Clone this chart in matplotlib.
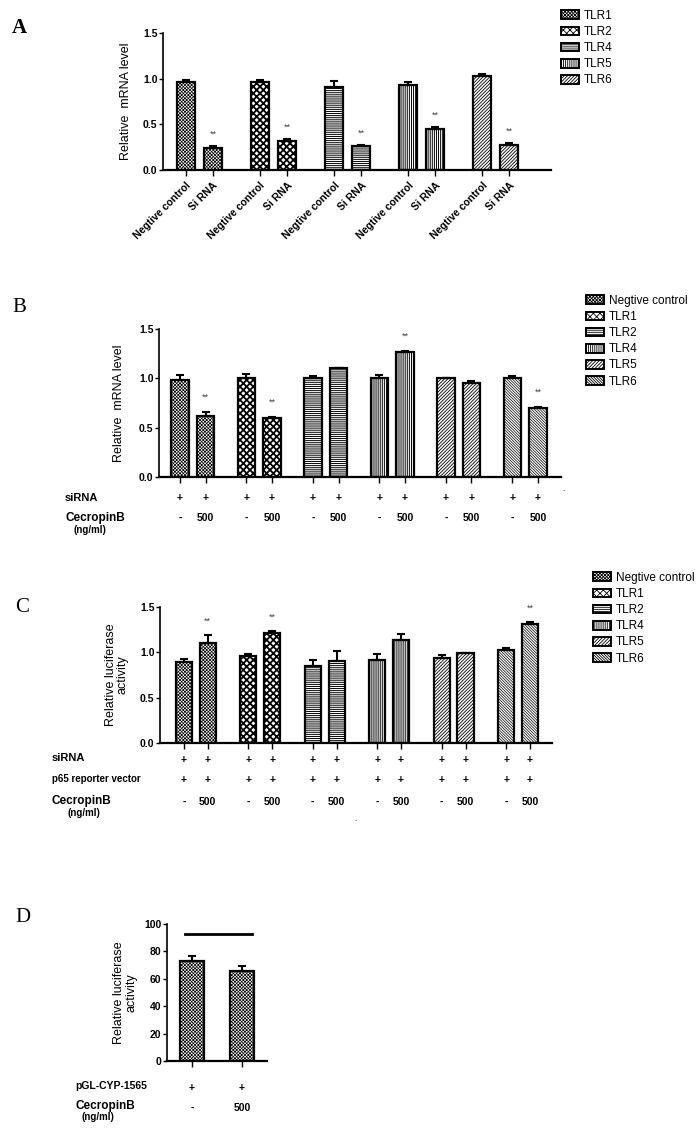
"""Fig: TLR siRNA knockdown / CecropinB — GraphPad style hatched bars"""
import matplotlib
matplotlib.use("Agg")
import matplotlib.pyplot as plt
import matplotlib.transforms as mtransforms
from matplotlib.patches import Patch

plt.rcParams["font.family"] = ["Liberation Sans", "DejaVu Sans"]
plt.rcParams["hatch.linewidth"] = 0.6

W, H = 700, 1128

# ---- data ----
a_groups = ["TLR1", "TLR2", "TLR4", "TLR5", "TLR6"]
a_ticklabels = ["Negtive control", "Si RNA"]
a_nc = [0.96, 0.96, 0.91, 0.93, 1.03]
a_nc_err = [0.02, 0.02, 0.06, 0.03, 0.02]
a_si = [0.24, 0.32, 0.26, 0.45, 0.27]
a_si_err = [0.02, 0.02, 0.01, 0.02, 0.03]

b_groups = ["Negtive control", "TLR1", "TLR2", "TLR4", "TLR5", "TLR6"]
b_ctrl = [0.98, 1.00, 1.00, 1.00, 1.00, 1.00]
b_ctrl_err = [0.05, 0.04, 0.02, 0.03, 0.005, 0.02]
b_cec = [0.62, 0.60, 1.10, 1.27, 0.95, 0.70]
b_cec_err = [0.04, 0.01, 0.005, 0.01, 0.02, 0.01]
b_sig = [True, True, False, True, False, True]

c_groups = ["Negtive control", "TLR1", "TLR2", "TLR4", "TLR5", "TLR6"]
c_ctrl = [0.89, 0.96, 0.85, 0.915, 0.94, 1.03]
c_ctrl_err = [0.04, 0.02, 0.07, 0.065, 0.03, 0.02]
c_cec = [1.10, 1.21, 0.90, 1.135, 0.99, 1.31]
c_cec_err = [0.09, 0.03, 0.11, 0.065, 0.0, 0.03]
c_sig = [True, True, False, False, False, True]

d_vals = [73, 66]
d_err = [4, 3]
dose_labels = ["-", "500"]

# hatch per group: (pattern, hatch line width)
HATCH = {"Negtive control": ("xxxxxxxxxx", 0.5), "TLR1": ("xxxxx", 1.3),
         "TLR2": ("--------", 0.7), "TLR4": ("||||||||", 0.7),
         "TLR5": ("//////////", 0.6), "TLR6": ("\\\\\\\\\\\\\\\\\\\\\\\\", 0.5)}
HATCH_A = {"TLR1": HATCH["Negtive control"], "TLR2": HATCH["TLR1"],
           "TLR4": HATCH["TLR2"], "TLR5": HATCH["TLR4"], "TLR6": HATCH["TLR5"]}


def px_axes(x0, y0, x1, y1):
    return fig.add_axes([x0 / W, 1 - y1 / H, (x1 - x0) / W, (y1 - y0) / H])


def style(ax, ylim, yticks, fmt="{:.1f}"):
    ax.set_ylim(*ylim)
    ax.set_yticks(yticks)
    ax.set_yticklabels([fmt.format(t) for t in yticks], fontsize=7.5, fontweight="bold")
    for s in ["top", "right"]:
        ax.spines[s].set_visible(False)
    ax.spines["left"].set_linewidth(1.2)
    ax.spines["bottom"].set_linewidth(1.6)
    ax.tick_params(axis="y", length=3, width=1, pad=1)
    ax.tick_params(axis="x", length=4, width=1, direction="out")


def bars(ax, x, vals, errs, hatch, width=0.68):
    pat, lw = hatch
    with plt.rc_context({"hatch.linewidth": lw}):
        ax.bar(x, vals, width=width, facecolor="white", edgecolor="black",
               hatch=pat, linewidth=1.6, zorder=2)
    ax.errorbar(x, vals, yerr=[[0] * len(vals), errs], fmt="none",
                ecolor="black", elinewidth=1.5, capsize=3, capthick=1.5, zorder=3)


def stars(ax, x, y):
    ax.text(x, y, "**", ha="center", va="bottom", fontsize=6.5, color="#444444")


def row_text(ax, x, ypix, s):
    tr = mtransforms.blended_transform_factory(ax.transData, fig.transFigure)
    ax.text(x, 1 - ypix / H, s, transform=tr, ha="center", va="center",
            fontsize=7.5, fontweight="bold", clip_on=False)


def legend(ax, names, hatches, x, y):
    handles = []
    for pat, lw in hatches:
        with plt.rc_context({"hatch.linewidth": lw}):
            handles.append(Patch(facecolor="white", edgecolor="black", hatch=pat, linewidth=1.4))
    ax.legend(handles, names, loc="upper left", bbox_to_anchor=(x / W, 1 - y / H),
              bbox_transform=fig.transFigure, frameon=False, fontsize=8.5,
              handlelength=1.5, handleheight=0.75, labelspacing=0.35,
              handletextpad=0.45, borderpad=0)


fig = plt.figure(figsize=(W / 100, H / 100), dpi=100)

# ---------------- A ----------------
axA = px_axes(163, 33, 551, 170)
gap_a = 2.75
xa_nc = [i * gap_a for i in range(len(a_groups))]
xa_si = [i * gap_a + 1 for i in range(len(a_groups))]
for i, g in enumerate(a_groups):
    bars(axA, [xa_nc[i], xa_si[i]], [a_nc[i], a_si[i]], [a_nc_err[i], a_si_err[i]], HATCH_A[g])
    stars(axA, xa_si[i], a_si[i] + a_si_err[i] + 0.08)
style(axA, (0, 1.5), [0.0, 0.5, 1.0, 1.5])
axA.set_xlim(-0.85, xa_si[-1] + 1.55)
xt = sorted(xa_nc + xa_si)
axA.set_xticks(xt)
axA.set_xticklabels(a_ticklabels * len(a_groups), rotation=45, ha="right",
                    rotation_mode="anchor", fontsize=7.5, fontweight="bold")
axA.set_ylabel("Relative  mRNA level", fontsize=9, labelpad=8)
legend(axA, a_groups, [HATCH_A[g] for g in a_groups], 555, 4)
fig.text(12 / W, 1 - 28 / H, "A", family="Liberation Serif", fontsize=15,
         fontweight="bold", va="center")

# ---------------- B ----------------
axB = px_axes(159, 329, 561, 477)
gap_b = 2.6
xb_c = [i * gap_b for i in range(len(b_groups))]
xb_t = [i * gap_b + 1 for i in range(len(b_groups))]
for i, g in enumerate(b_groups):
    bars(axB, [xb_c[i], xb_t[i]], [b_ctrl[i], b_cec[i]], [b_ctrl_err[i], b_cec_err[i]], HATCH[g])
    if b_sig[i]:
        stars(axB, xb_t[i], b_cec[i] + b_cec_err[i] + 0.1)
style(axB, (0, 1.5), [0.0, 0.5, 1.0, 1.5])
axB.set_xlim(-0.82, xb_t[-1] + 0.9)
axB.set_xticks(sorted(xb_c + xb_t))
axB.set_xticklabels([])
axB.set_ylabel("Relative  mRNA level", fontsize=9, labelpad=10)
for i in range(len(b_groups)):
    for x, d in zip([xb_c[i], xb_t[i]], dose_labels):
        row_text(axB, x, 498, "+")
        row_text(axB, x, 518, d)
fig.text(65 / W, 1 - 498 / H, "siRNA", fontsize=8, fontweight="bold", va="center")
fig.text(65 / W, 1 - 518 / H, "CecropinB", fontsize=8.5, fontweight="bold", va="center")
fig.text(90 / W, 1 - 530 / H, "(ng/ml)", fontsize=7, fontweight="bold", va="center", ha="center")
fig.text(563 / W, 1 - 491 / H, ".", fontsize=6, ha="center")
legend(axB, b_groups, [HATCH[g] for g in b_groups], 580, 289)
fig.text(12 / W, 1 - 307 / H, "B", family="Liberation Serif", fontsize=15, va="center")

# ---------------- C ----------------
axC = px_axes(160, 607, 552, 743)
gap_c = 2.7
xc_c = [i * gap_c for i in range(len(c_groups))]
xc_t = [i * gap_c + 1 for i in range(len(c_groups))]
for i, g in enumerate(c_groups):
    bars(axC, [xc_c[i], xc_t[i]], [c_ctrl[i], c_cec[i]], [c_ctrl_err[i], c_cec_err[i]], HATCH[g])
    if c_sig[i]:
        stars(axC, xc_t[i], c_cec[i] + c_cec_err[i] + 0.1)
style(axC, (0, 1.5), [0.0, 0.5, 1.0, 1.5])
axC.set_xlim(-1.0, xc_t[-1] + 0.92)
axC.set_xticks(sorted(xc_c + xc_t))
axC.set_xticklabels([])
axC.set_ylabel("Relative luciferase\nactivity", fontsize=9, labelpad=8, linespacing=1.0)
for i in range(len(c_groups)):
    for x, d in zip([xc_c[i], xc_t[i]], dose_labels):
        row_text(axC, x, 760, "+")
        row_text(axC, x, 780, "+")
        row_text(axC, x, 802, d)
fig.text(52 / W, 1 - 758 / H, "siRNA", fontsize=8, fontweight="bold", va="center")
fig.text(52 / W, 1 - 779 / H, "p65 reporter vector", fontsize=7, fontweight="bold", va="center")
fig.text(52 / W, 1 - 801 / H, "CecropinB", fontsize=8.5, fontweight="bold", va="center")
fig.text(84 / W, 1 - 813 / H, "(ng/ml)", fontsize=7, fontweight="bold", va="center", ha="center")
fig.text(355 / W, 1 - 821 / H, ".", fontsize=6, ha="center")
legend(axC, c_groups, [HATCH[g] for g in c_groups], 587, 566)
fig.text(15 / W, 1 - 607 / H, "C", family="Liberation Serif", fontsize=15, va="center")

# ---------------- D ----------------
axD = px_axes(167, 924, 267, 1061)
xd = [0, 1]
bars(axD, xd, d_vals, d_err, HATCH["Negtive control"], width=0.48)
axD.plot([-0.15, 1.2], [93, 93], color="black", lw=2, clip_on=False)
style(axD, (0, 100), [0, 20, 40, 60, 80, 100], fmt="{:.0f}")
axD.set_xlim(-0.5, 1.5)
axD.set_xticks(xd)
axD.set_xticklabels([])
axD.set_ylabel("Relative luciferase\nactivity", fontsize=9, labelpad=5, linespacing=1.0)
for x, d in zip(xd, dose_labels):
    row_text(axD, x, 1088, "+")
    row_text(axD, x, 1108, d)
fig.text(75 / W, 1 - 1086 / H, "pGL-CYP-1565", fontsize=7.5, fontweight="bold", va="center")
fig.text(75 / W, 1 - 1106 / H, "CecropinB", fontsize=8.5, fontweight="bold", va="center")
fig.text(98 / W, 1 - 1117 / H, "(ng/ml)", fontsize=7, fontweight="bold", va="center", ha="center")
fig.text(15 / W, 1 - 918 / H, "D", family="Liberation Serif", fontsize=15, va="center")

plt.savefig("out.png", dpi=100)
plt.close()
